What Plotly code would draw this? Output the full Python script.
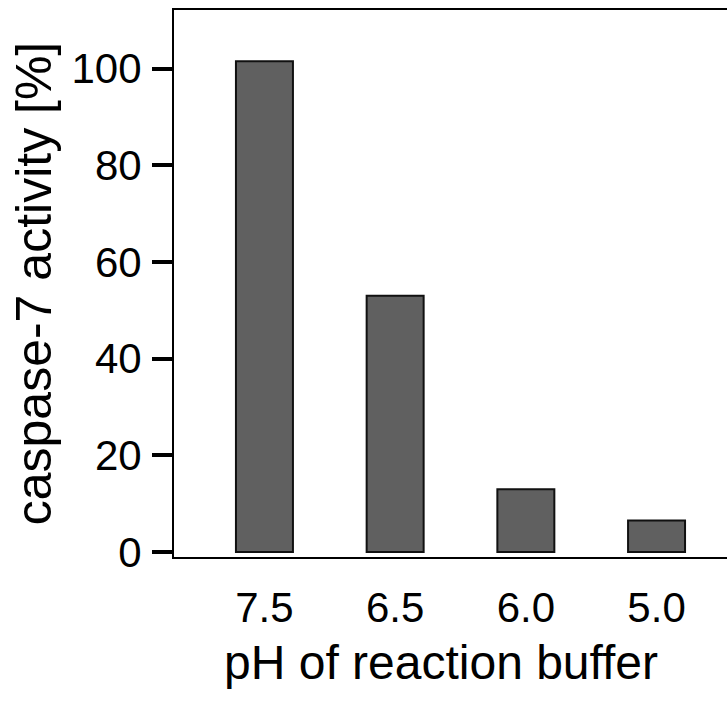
import plotly.graph_objects as go

categories = ["7.5", "6.5", "6.0", "5.0"]
activity = [101.5, 53.0, 13.0, 6.5]
y_ticks = [0, 20, 40, 60, 80, 100]
x_title = "pH of reaction buffer"
y_title = "caspase-7 activity [%]"

font_family = "Liberation Sans, Arial, sans-serif"

W, H = 727, 709
L, T, B, R = 174, 10, 709 - 557, 0

fig = go.Figure()
fig.add_trace(go.Bar(
    x=categories, y=activity,
    width=0.436,
    marker=dict(color="#606060", line=dict(color="#111111", width=2)),
))

plot_w = W - L - R
plot_h = H - T - B

fig.update_layout(
    width=W, height=H,
    margin=dict(l=L, r=R, t=T, b=B, autoexpand=False),
    paper_bgcolor="white", plot_bgcolor="white",
    showlegend=False,
    font=dict(family=font_family, color="black"),
    annotations=[dict(
        text=x_title, xref="paper", yref="paper",
        x=(441 - 174) / plot_w, y=-(662 - 557) / plot_h,
        xanchor="center", yanchor="middle", showarrow=False,
        font=dict(size=48, family=font_family, color="black"),
    )],
)
fig.update_xaxes(
    type="category",
    range=[-0.692, 3.539],
    showline=True, linecolor="black", linewidth=2, mirror=True,
    showgrid=False, zeroline=False,
    ticks="", tickfont=dict(size=42, family=font_family),
    ticklabelstandoff=13,
)
fig.update_yaxes(
    range=[-1.03, 112.1],
    tickvals=y_ticks,
    showline=True, linecolor="black", linewidth=2, mirror=False,
    showgrid=False, zeroline=False,
    ticks="outside", ticklen=20, tickwidth=4, tickcolor="black",
    tickfont=dict(size=42, family=font_family),
    ticklabelstandoff=2,
    title=dict(text=y_title, font=dict(size=50, family=font_family), standoff=4),
)

fig.write_html(
    "out.html",
    config={"displayModeBar": False},
    post_script="document.body.style.margin='0';document.body.style.overflow='hidden';",
)
